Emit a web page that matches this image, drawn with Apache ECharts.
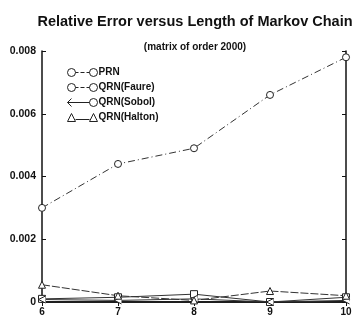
<!DOCTYPE html>
<html><head><meta charset="utf-8">
<script src="https://cdn.jsdelivr.net/npm/echarts@6/dist/echarts.min.js"></script>
<style>html,body{margin:0;padding:0;background:#fff}#c{width:359px;height:320px}</style>
</head><body><div id="c"></div>
<script>
const categories = ['6','7','8','9','10'];
const prn = [0.0030, 0.0044, 0.0049, 0.0066, 0.0078];
const faure = [0.00010, 0.00015, 0.00025, 0.00000, 0.00015];
const sobol = [0.00008, 0.00005, 0.00010, 0.00000, 0.00005];
const halton = [0.00055, 0.00020, 0.00005, 0.00035, 0.00020];
const yTicks = ['0','0.002','0.004','0.006','0.008'];

const F = 'Liberation Sans, Arial, sans-serif';
const circ = 'path://M0,5 a5,5 0 1,0 10,0 a5,5 0 1,0 -10,0';
const ltIcon = 'path://M10,0 L0,5 L10,10';
const iconCC = 'path://M0,5 a4,4 0 1,0 8,0 a4,4 0 1,0 -8,0 M8,5 L11,5 M13,5 L17,5 M19,5 L22,5 M22,5 a4,4 0 1,0 8,0 a4,4 0 1,0 -8,0';
const iconSob = 'path://M4,1 L0,5 L4,9 M0,5 L22,5 M22,5 a4,4 0 1,0 8,0 a4,4 0 1,0 -8,0';
const iconTri = 'path://M0,9 L4,1 L8,9 Z M8,7 L22,7 M22,9 L26,1 L30,9 Z';

function ser(name, data, symbol, dash){
  return {name, type:'line', data, symbol, symbolSize:7, showSymbol:true,
    itemStyle:{color:'#fff', borderColor:'#222', borderWidth:1},
    lineStyle:{color:'#333', width:1, type:dash}, emphasis:{disabled:true}, animation:false, z:3};
}
const chart = echarts.init(document.getElementById('c'));
chart.setOption({
  backgroundColor:'#fff',
  animation:false,
  title:[
    {text:'Relative Error versus Length of Markov Chain', left:190, textAlign:'center', top:9,
     textStyle:{fontFamily:F, fontSize:14.5, fontWeight:'bold', color:'#111'}},
    {text:'(matrix of order 2000)', left:190, textAlign:'center', top:37,
     textStyle:{fontFamily:F, fontSize:10, fontWeight:'bold', color:'#111'}}
  ],
  legend:{
    left:60, top:61, orient:'vertical', itemGap:2, itemWidth:30, itemHeight:9,
    textStyle:{fontFamily:F, fontSize:10, fontWeight:'bold', color:'#111', padding:[0,0,0,-4]},
    itemStyle:{color:'none', borderColor:'#222', borderWidth:1},
    data:[
      {name:'PRN', icon:iconCC},
      {name:'QRN(Faure)', icon:iconCC},
      {name:'QRN(Sobol)', icon:iconSob},
      {name:'QRN(Halton)', icon:iconTri}
    ]
  },
  grid:{left:42, right:13, top:51, bottom:18},
  xAxis:[
    {type:'category', data:categories, boundaryGap:false,
     axisLine:{lineStyle:{color:'#111', width:1.5}},
     axisTick:{inside:true, length:4, lineStyle:{color:'#111'}},
     axisLabel:{fontFamily:F, fontSize:10, fontWeight:'bold', color:'#111', margin:5}},
    {type:'category', data:categories, boundaryGap:false, position:'top',
     axisLine:{lineStyle:{color:'#111', width:1.5}},
     axisTick:{inside:true, length:4, lineStyle:{color:'#111'}},
     axisLabel:{show:false}}
  ],
  yAxis:[
    {type:'value', min:0, max:0.008, interval:0.002,
     axisLine:{show:true, lineStyle:{color:'#111', width:1.5}},
     axisTick:{show:true, inside:true, length:4, lineStyle:{color:'#111'}},
     splitLine:{show:false},
     axisLabel:{fontFamily:F, fontSize:10.5, fontWeight:'bold', color:'#111', margin:6,
       formatter:(v)=>yTicks[Math.round(v/0.002)]}},
    {type:'value', min:0, max:0.008, interval:0.002, position:'right',
     axisLine:{show:true, lineStyle:{color:'#111', width:1.5}},
     axisTick:{show:true, inside:true, length:4, lineStyle:{color:'#111'}},
     splitLine:{show:false}, axisLabel:{show:false}}
  ],
  series:[
    ser('PRN', prn, circ, [7,3,1,3]),
    ser('QRN(Faure)', faure, 'rect', 'solid'),
    ser('QRN(Sobol)', sobol, ltIcon, 'solid'),
    ser('QRN(Halton)', halton, 'triangle', [8,2])
  ]
});
</script></body></html>
